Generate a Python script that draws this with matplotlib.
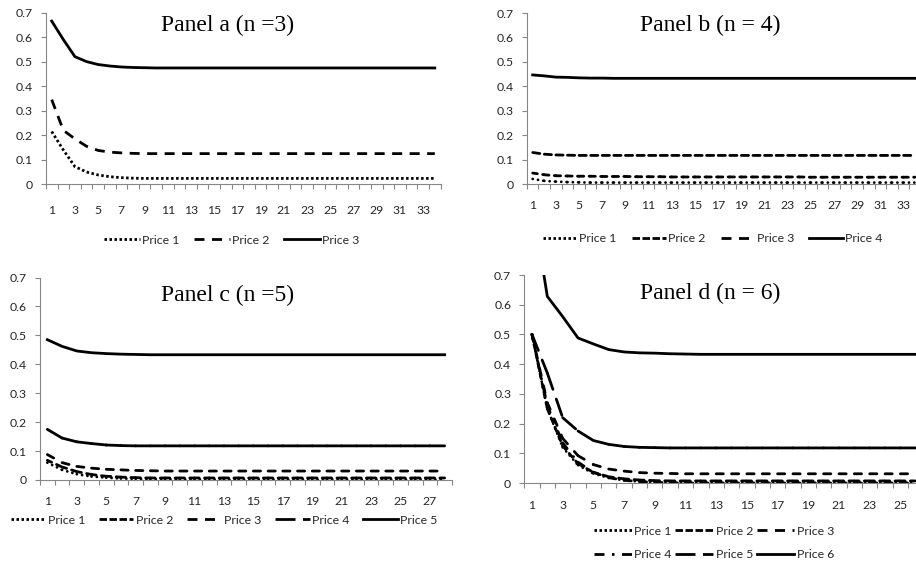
"""Four panels of price paths (n = 3..6), redrawn from an Excel chart."""

import matplotlib
matplotlib.use("Agg")
import matplotlib.pyplot as plt
import numpy as np
from matplotlib.collections import LineCollection
from matplotlib.lines import Line2D

plt.rcParams["lines.scale_dashes"] = False

# ---- data ----
# Panel a (n = 3), periods 1..34
a_price1 = [0.215, 0.14, 0.072, 0.05, 0.038, 0.031, 0.027, 0.025, 0.024, 0.024,
            0.024, 0.024, 0.024, 0.024, 0.024, 0.024, 0.024, 0.024, 0.024, 0.024,
            0.024, 0.024, 0.024, 0.024, 0.024, 0.024, 0.024, 0.024, 0.024, 0.024,
            0.024, 0.024, 0.024, 0.024]
a_price2 = [0.345, 0.22, 0.185, 0.155, 0.138, 0.131, 0.128, 0.126, 0.125, 0.125,
            0.125, 0.125, 0.125, 0.125, 0.125, 0.125, 0.125, 0.125, 0.125, 0.125,
            0.125, 0.125, 0.125, 0.125, 0.125, 0.125, 0.125, 0.125, 0.125, 0.125,
            0.125, 0.125, 0.125, 0.125]
a_price3 = [0.665, 0.59, 0.52, 0.5, 0.488, 0.482, 0.478, 0.476, 0.475, 0.474,
            0.474, 0.474, 0.474, 0.474, 0.474, 0.474, 0.474, 0.474, 0.474, 0.474,
            0.474, 0.474, 0.474, 0.474, 0.474, 0.474, 0.474, 0.474, 0.474, 0.474,
            0.474, 0.474, 0.474, 0.474]

# Panel b (n = 4), periods 1..34
b_price1 = [0.022, 0.014, 0.011, 0.009, 0.008, 0.007, 0.007, 0.007, 0.007, 0.007,
            0.007, 0.007, 0.007, 0.007, 0.007, 0.007, 0.007, 0.007, 0.007, 0.007,
            0.007, 0.007, 0.007, 0.007, 0.007, 0.007, 0.007, 0.007, 0.007, 0.007,
            0.007, 0.007, 0.007, 0.007]
b_price2 = [0.046, 0.039, 0.035, 0.034, 0.033, 0.033, 0.032, 0.032, 0.032, 0.031,
            0.031, 0.031, 0.030, 0.030, 0.030, 0.030, 0.030, 0.030, 0.030, 0.030,
            0.030, 0.030, 0.030, 0.030, 0.029, 0.029, 0.029, 0.029, 0.029, 0.029,
            0.029, 0.029, 0.029, 0.029]
b_price3 = [0.13, 0.123, 0.12, 0.119, 0.118, 0.118, 0.118, 0.118, 0.118, 0.118,
            0.118, 0.118, 0.118, 0.118, 0.118, 0.118, 0.118, 0.118, 0.118, 0.118,
            0.118, 0.118, 0.118, 0.118, 0.118, 0.118, 0.118, 0.118, 0.118, 0.118,
            0.118, 0.118, 0.118, 0.118]
b_price4 = [0.447, 0.443, 0.438, 0.437, 0.435, 0.434, 0.434, 0.433, 0.433, 0.433,
            0.433, 0.433, 0.433, 0.433, 0.433, 0.433, 0.433, 0.433, 0.433, 0.433,
            0.433, 0.433, 0.433, 0.433, 0.433, 0.433, 0.433, 0.433, 0.433, 0.433,
            0.433, 0.433, 0.433, 0.433]

# Panel c (n = 5), periods 1..28
c_price1 = [0.06, 0.035, 0.02, 0.012, 0.008, 0.005, 0.004, 0.003, 0.003, 0.002,
            0.002, 0.002, 0.002, 0.002, 0.002, 0.002, 0.002, 0.002, 0.002, 0.002,
            0.002, 0.002, 0.002, 0.002, 0.002, 0.002, 0.002, 0.002]
c_price2 = [0.068, 0.045, 0.029, 0.019, 0.013, 0.01, 0.008, 0.007, 0.007, 0.007,
            0.007, 0.007, 0.007, 0.007, 0.007, 0.007, 0.007, 0.007, 0.007, 0.007,
            0.007, 0.007, 0.007, 0.007, 0.007, 0.007, 0.007, 0.007]
c_price3 = [0.088, 0.06, 0.047, 0.041, 0.037, 0.035, 0.033, 0.032, 0.031, 0.031,
            0.031, 0.031, 0.031, 0.031, 0.031, 0.031, 0.031, 0.031, 0.031, 0.031,
            0.031, 0.031, 0.031, 0.031, 0.031, 0.031, 0.031, 0.031]
c_price4 = [0.175, 0.145, 0.132, 0.126, 0.121, 0.119, 0.118, 0.118, 0.118, 0.118,
            0.118, 0.118, 0.118, 0.118, 0.118, 0.118, 0.118, 0.118, 0.118, 0.118,
            0.118, 0.118, 0.118, 0.118, 0.118, 0.118, 0.118, 0.118]
c_price5 = [0.485, 0.462, 0.446, 0.44, 0.437, 0.435, 0.434, 0.433, 0.433, 0.433,
            0.433, 0.433, 0.433, 0.433, 0.433, 0.433, 0.433, 0.433, 0.433, 0.433,
            0.433, 0.433, 0.433, 0.433, 0.433, 0.433, 0.433, 0.433]

# Panel d (n = 6), periods 1..26
d_price1 = [0.5, 0.25, 0.12, 0.06, 0.032, 0.017, 0.009, 0.005, 0.003, 0.002,
            0.002, 0.002, 0.002, 0.002, 0.002, 0.002, 0.002, 0.002, 0.002, 0.002,
            0.002, 0.002, 0.002, 0.002, 0.002, 0.002]
d_price2 = [0.5, 0.25, 0.125, 0.065, 0.036, 0.021, 0.014, 0.01, 0.008, 0.007,
            0.007, 0.007, 0.007, 0.007, 0.007, 0.007, 0.007, 0.007, 0.007, 0.007,
            0.007, 0.007, 0.007, 0.007, 0.007, 0.007]
d_price3 = [0.5, 0.27, 0.15, 0.092, 0.062, 0.047, 0.04, 0.035, 0.033, 0.032,
            0.031, 0.031, 0.031, 0.031, 0.031, 0.031, 0.031, 0.031, 0.031, 0.031,
            0.031, 0.031, 0.031, 0.031, 0.031, 0.031]
d_price4 = [0.5, 0.26, 0.135, 0.07, 0.036, 0.018, 0.009, 0.005, 0.002, 0.001,
            0.0, 0.0, 0.0, 0.0, 0.0, 0.0, 0.0, 0.0, 0.0, 0.0,
            0.0, 0.0, 0.0, 0.0, 0.0, 0.0]
d_price5 = [0.5, 0.37, 0.22, 0.175, 0.143, 0.13, 0.123, 0.12, 0.119, 0.118,
            0.118, 0.118, 0.118, 0.118, 0.118, 0.118, 0.118, 0.118, 0.118, 0.118,
            0.118, 0.118, 0.118, 0.118, 0.118, 0.118]
d_price6 = [0.95, 0.628, 0.56, 0.488, 0.468, 0.449, 0.441, 0.438, 0.437, 0.435,
            0.434, 0.433, 0.433, 0.433, 0.433, 0.433, 0.433, 0.433, 0.433, 0.433,
            0.433, 0.433, 0.433, 0.433, 0.433, 0.433]

y_ticks = [0, 0.1, 0.2, 0.3, 0.4, 0.5, 0.6, 0.7]
y_tick_labels = ["0", "0.1", "0.2", "0.3", "0.4", "0.5", "0.6", "0.7"]

# ---- Excel-like line styles (dash lengths in points) ----
U = 1.8
DOT = (0, (U, U))
SYSDASH = (0, (3 * U, U))
DASH = (0, (4 * U, 3 * U))
LONGDASH = (0, (8 * U, 3 * U))
DASHDOT = (0, (4 * U, 3 * U, U, 3 * U))
SOLID = "-"
LW = 2.0
AXIS_GREY = "#868686"
TEXT_COL = "#262626"
TICK_FONT = "Lato"
TICK_SIZE = 8.8
TITLE_FONT = "Liberation Serif"

W, H = 916, 566


def rect(left, top, right, bottom):
    """Pixel box (top-left origin) -> figure fraction rect."""
    return [left / W, 1 - bottom / H, (right - left) / W, (bottom - top) / H]


PANELS = [
    dict(title="Panel a (n =3)", title_xy=(228, 25),
         series=[a_price1, a_price2, a_price3], styles=[DOT, DASH, SOLID],
         restart=False, box=rect(45.9, 12.5, 440.6, 184.3), xmax=34.5,
         xpad=15, leg_xy=(232, 240), ncol=3, colsp=1.2, handlelen=2.9, order=None),
    dict(title="Panel b (n = 4)", title_xy=(710, 25),
         series=[b_price1, b_price2, b_price3, b_price4],
         styles=[DOT, SYSDASH, DASH, SOLID],
         restart=True, box=rect(526.9, 13.0, 921.0, 184.3), xmax=34.5,
         xpad=11.5, leg_xy=(713, 239), ncol=4, colsp=1.25, handlelen=2.75, order=None),
    dict(title="Panel c (n =5)", title_xy=(228, 295),
         series=[c_price1, c_price2, c_price3, c_price4, c_price5],
         styles=[DOT, SYSDASH, DASH, LONGDASH, SOLID],
         restart=True, box=rect(40.0, 277.5, 452.0, 480.0), xmax=28.5,
         xpad=11.5, leg_xy=(224, 520), ncol=5, colsp=1.1, handlelen=2.85, order=None),
    dict(title="Panel d (n = 6)", title_xy=(710, 293),
         series=[d_price1, d_price2, d_price3, d_price4, d_price5, d_price6],
         styles=[DOT, SYSDASH, DASH, DASHDOT, LONGDASH, SOLID],
         restart=True, box=rect(524.3, 275.0, 923.4, 483.0), xmax=26.5,
         xpad=12, leg_xy=(714, 543), ncol=3, colsp=0.3, handlelen=3.1,
         order=[0, 3, 1, 4, 2, 5]),
]


def draw_series(ax, y, style, restart):
    x = np.arange(1, len(y) + 1)
    if style == SOLID or not restart:
        ax.plot(x, y, color="black", lw=LW, linestyle=style, snap=False,
                dash_capstyle="butt", solid_joinstyle="round")
        return
    # Excel restarts the dash pattern on every segment between two points.
    # Round caps hide notches at the joins; shorten dashes to compensate.
    offset, seq = style
    seq = tuple(max(v - LW, 0.05) if i % 2 == 0 else v + LW
                for i, v in enumerate(seq))
    pts = np.column_stack([x, y])
    segs = np.stack([pts[:-1], pts[1:]], axis=1)
    ax.add_collection(LineCollection(segs, colors="black", linewidths=LW,
                                     linestyles=[(offset, seq)], capstyle="round",
                                     snap=False))


fig = plt.figure(figsize=(W / 100, H / 100), dpi=100)

for p in PANELS:
    ax = fig.add_axes(p["box"])
    for y, style in zip(p["series"], p["styles"]):
        draw_series(ax, y, style, p["restart"])

    n = len(p["series"][0])
    ax.set_xlim(0.5, p["xmax"])
    ax.set_ylim(0, 0.7)
    ax.set_yticks(y_ticks)
    ax.set_yticklabels(y_tick_labels)
    odd = np.arange(1, n + 1, 2)
    ax.set_xticks(odd)
    ax.set_xticklabels([str(v) for v in odd])
    ax.set_xticks(np.arange(0.5, n + 1.0, 1.0), minor=True)

    for side in ("top", "right"):
        ax.spines[side].set_visible(False)
    for side in ("left", "bottom"):
        ax.spines[side].set_color(AXIS_GREY)
        ax.spines[side].set_linewidth(0.8)

    ax.tick_params(axis="y", direction="out", length=3.4, width=0.8,
                   color=AXIS_GREY, pad=6, labelsize=TICK_SIZE, labelcolor=TEXT_COL)
    ax.tick_params(axis="x", which="major", length=0, pad=p["xpad"],
                   labelsize=TICK_SIZE, labelcolor=TEXT_COL)
    ax.tick_params(axis="x", which="minor", direction="out", length=3.4,
                   width=0.8, color=AXIS_GREY)
    for lab in ax.get_xticklabels() + ax.get_yticklabels():
        lab.set_fontfamily(TICK_FONT)

    tx, ty = p["title_xy"]
    fig.text(tx / W, 1 - ty / H, p["title"], ha="center", va="center",
             fontsize=17, family=TITLE_FONT, color="black")

    handles = [Line2D([], [], color="black", lw=LW, linestyle=s,
                      dash_capstyle="butt") for s in p["styles"]]
    labels = [f"Price {i + 1}" for i in range(len(handles))]
    if p["order"] is not None:
        handles = [handles[i] for i in p["order"]]
        labels = [labels[i] for i in p["order"]]
    lx, ly = p["leg_xy"]
    ax.legend(handles, labels, loc="center", ncol=p["ncol"],
              bbox_to_anchor=(lx / W, 1 - ly / H), bbox_transform=fig.transFigure,
              frameon=False, handlelength=p["handlelen"], handletextpad=0.2,
              columnspacing=p["colsp"], labelspacing=1.05, borderpad=0,
              prop={"family": TICK_FONT, "size": TICK_SIZE}, labelcolor=TEXT_COL)

fig.savefig("out.png", dpi=100)
plt.close(fig)
